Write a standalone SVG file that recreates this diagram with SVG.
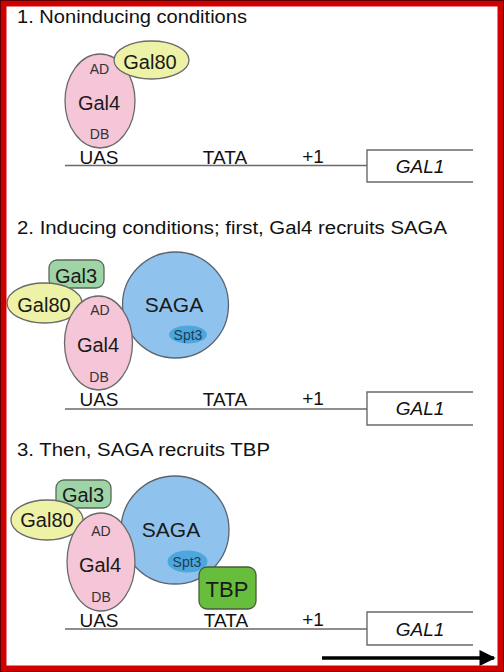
<svg xmlns="http://www.w3.org/2000/svg" width="504" height="672" viewBox="0 0 504 672">
<defs>
<style>
text{font-family:"Liberation Sans",Arial,sans-serif;fill:#1a1a1a}
.title{font-size:18px;fill:#111}
.big{font-size:20px;text-anchor:middle}
.sm{font-size:14px;text-anchor:middle;fill:#333}
.lbl{font-size:19px;text-anchor:middle;fill:#111}
.gene{font-size:19px;font-style:italic;text-anchor:middle;fill:#111}
.gal4{fill:#f5c6d7;stroke:#6a6a6a;stroke-width:1.3}
.gal80{fill:#eef2a6;stroke:#6a6a6a;stroke-width:1.3}
.gal3{fill:#9ed4a6;stroke:#5a6a5a;stroke-width:1.3}
.saga{fill:#8fc3ee;stroke:#5a6470;stroke-width:1.3}
.spt3{fill:#4ea7dc;stroke:none}
.tbp{fill:#67bd3c;stroke:#4a5a40;stroke-width:1.3}
.dna{fill:none;stroke:#6a6a6a;stroke-width:1.4}
</style>
<marker id="ah" viewBox="0 0 10 10" refX="9" refY="5" markerWidth="5.5" markerHeight="4.6" orient="auto" markerUnits="strokeWidth">
<path d="M0,0 L10,5 L0,10 z" fill="#000"/>
</marker>
</defs>
<rect x="0" y="0" width="504" height="672" fill="#fff"/>

<!-- Panel 1 -->
<g id="panel1">
<text class="title" x="17" y="23" textLength="230" lengthAdjust="spacingAndGlyphs">1. Noninducing conditions</text>
<g id="p1-dna">
<path class="dna" d="M65,165.5 H367 M473,150 H367 V182 H473"/>
<text class="lbl" x="99" y="164">UAS</text>
<text class="lbl" x="225" y="164">TATA</text>
<text class="lbl" x="313" y="163">+1</text>
<text class="gene" x="420" y="173">GAL1</text>
</g>
<g id="p1-gal4">
<ellipse class="gal4" cx="100" cy="101" rx="35" ry="47"/>
<text class="sm" x="99.5" y="74">AD</text>
<text class="big" x="99" y="110">Gal4</text>
<text class="sm" x="99.5" y="139">DB</text>
</g>
<g id="p1-gal80">
<ellipse class="gal80" cx="151.5" cy="60" rx="37.5" ry="19"/>
<text class="big" x="150" y="69">Gal80</text>
</g>
</g>

<!-- Panel 2 -->
<g id="panel2">
<text class="title" x="17" y="234" textLength="430" lengthAdjust="spacingAndGlyphs">2. Inducing conditions; first, Gal4 recruits SAGA</text>
<g id="p2-dna">
<path class="dna" d="M65,409 H367 M473,392 H367 V425 H473"/>
<text class="lbl" x="99" y="406">UAS</text>
<text class="lbl" x="225" y="406">TATA</text>
<text class="lbl" x="313" y="405">+1</text>
<text class="gene" x="420" y="415">GAL1</text>
</g>
<g id="p2-gal3">
<rect class="gal3" x="49" y="260" width="55" height="28" rx="8"/>
<text class="big" x="76" y="283">Gal3</text>
</g>
<g id="p2-gal80">
<ellipse class="gal80" cx="44.5" cy="303" rx="37.5" ry="20"/>
<text class="big" x="44" y="312">Gal80</text>
</g>
<g id="p2-saga">
<circle class="saga" cx="175.5" cy="305" r="53"/>
<ellipse class="spt3" cx="188" cy="334.5" rx="19" ry="9"/>
<text class="big" x="174" y="312" style="font-size:21px">SAGA</text>
<text class="sm" x="188" y="339.5" style="fill:#1d3d5a">Spt3</text>
</g>
<g id="p2-gal4">
<ellipse class="gal4" cx="98.5" cy="343" rx="34" ry="47"/>
<text class="sm" x="100" y="315">AD</text>
<text class="big" x="98" y="352">Gal4</text>
<text class="sm" x="99" y="382">DB</text>
</g>
</g>

<!-- Panel 3 -->
<g id="panel3">
<text class="title" x="17" y="456" textLength="253" lengthAdjust="spacingAndGlyphs">3. Then, SAGA recruits TBP</text>
<g id="p3-dna">
<path class="dna" d="M65,629 H367 M473,612 H367 V645 H473"/>
<text class="lbl" x="99" y="627">UAS</text>
<text class="lbl" x="226" y="627">TATA</text>
<text class="lbl" x="313" y="626">+1</text>
<text class="gene" x="420" y="636">GAL1</text>
</g>
<g id="p3-gal3">
<rect class="gal3" x="56" y="480" width="55" height="28" rx="8"/>
<text class="big" x="83" y="502">Gal3</text>
</g>
<g id="p3-gal80">
<ellipse class="gal80" cx="47" cy="520" rx="36" ry="20"/>
<text class="big" x="47" y="527">Gal80</text>
</g>
<g id="p3-saga">
<circle class="saga" cx="175" cy="530" r="54"/>
<ellipse class="spt3" cx="187.5" cy="561.5" rx="20" ry="11"/>
<text class="big" x="171" y="537" style="font-size:21px">SAGA</text>
<text class="sm" x="187" y="566.5" style="fill:#1d3d5a">Spt3</text>
</g>
<g id="p3-gal4">
<ellipse class="gal4" cx="101" cy="562" rx="34" ry="49"/>
<text class="sm" x="101" y="536">AD</text>
<text class="big" x="100" y="572">Gal4</text>
<text class="sm" x="101" y="602">DB</text>
</g>
<g id="p3-tbp">
<rect class="tbp" x="199" y="567" width="57" height="42" rx="8"/>
<text class="big" x="227" y="597" style="font-size:22px">TBP</text>
</g>
</g>

<g id="connectors">
<line x1="322" y1="658" x2="494" y2="658" stroke="#000" stroke-width="3.5" marker-end="url(#ah)"/>
</g>

<!-- frame -->
<rect x="3.5" y="3.5" width="497" height="665" fill="none" stroke="#d00000" stroke-width="6"/>
<rect x="0.5" y="0.5" width="503" height="671" fill="none" stroke="#5a0000" stroke-width="1"/>
</svg>
